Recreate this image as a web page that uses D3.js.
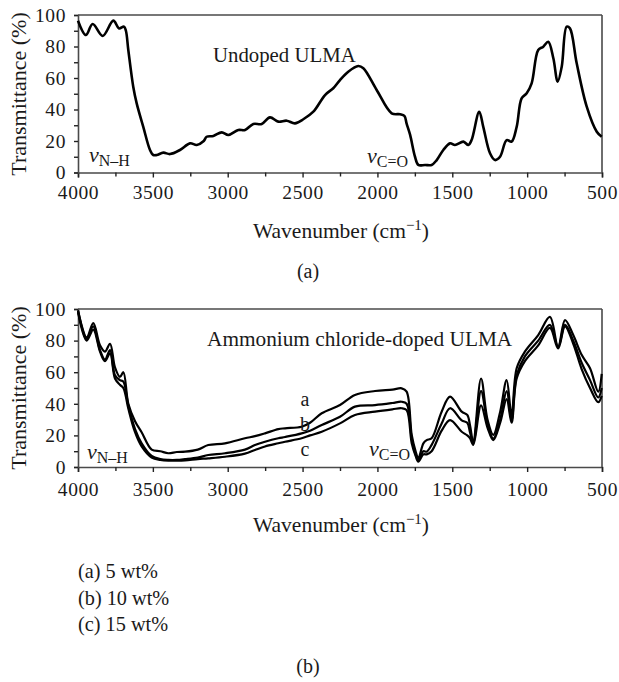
<!DOCTYPE html>
<html>
<head>
<meta charset="utf-8">
<script src="https://cdn.jsdelivr.net/npm/d3@7"></script>
<style>
  html, body { margin: 0; padding: 0; background: #fff; }
  svg { display: block; }
  text { font-family: "Liberation Serif", "Times New Roman", serif; fill: #1a1a1a; }
</style>
</head>
<body>
<svg id="chart" width="619" height="682"></svg>
<script>
// ---------------- DATA ----------------
const xTicks = [4000, 3500, 3000, 2500, 2000, 1500, 1000, 500];
const xMinorTicks = [3750, 3250, 2750, 2250, 1750, 1250, 750];
const yTicks = [0, 20, 40, 60, 80, 100];
const yMinorTicks = [10, 30, 50, 70, 90];

// (a) Undoped ULMA
const topWn = [4000, 3947, 3902, 3835, 3764, 3726, 3693, 3680, 3664, 3631, 3608, 3564, 3519, 3497, 3474, 3430, 3385, 3319, 3252, 3207, 3160, 3141, 3096, 3040, 2996, 2929, 2884, 2829, 2773, 2718, 2662, 2606, 2551, 2495, 2428, 2350, 2295, 2250, 2195, 2128, 2094, 2005, 1905, 1849, 1820, 1805, 1782, 1749, 1727, 1682, 1638, 1604, 1560, 1515, 1482, 1426, 1393, 1371, 1320, 1293, 1248, 1215, 1181, 1137, 1104, 1070, 1037, 1003, 970, 926, 892, 859, 825, 796, 769, 736, 714, 669, 602, 535, 502];
const topT = [96.4, 87.3, 94.3, 86.7, 96.4, 91.5, 92.6, 90, 77.8, 54.5, 43.9, 29, 14.3, 11.1, 11.1, 12.6, 11.7, 14.3, 18.5, 17.5, 20, 22.7, 23.2, 25.5, 23.8, 27, 27, 30.8, 30.8, 35, 32.3, 32.9, 31.2, 33.8, 38.6, 49.2, 53.5, 58.7, 64, 67.6, 66.2, 52.4, 37.6, 37, 36, 31, 24, 10, 4.8, 4.8, 4.8, 7.9, 14.3, 18.5, 17.5, 19.6, 17.5, 20.6, 38.6, 29, 12.2, 7.9, 10, 20.6, 19.6, 29, 47.1, 50.3, 56.6, 77.8, 79.9, 83, 72.5, 57.7, 67.2, 92.6, 91.5, 69.3, 41.8, 25.9, 22.7];

// (b) Ammonium chloride-doped ULMA
const botWn = [4000, 3942, 3898, 3853, 3820, 3786, 3753, 3720, 3697, 3664, 3619, 3575, 3508, 3450, 3397, 3340, 3285, 3200, 3130, 3018, 2885, 2818, 2751, 2662, 2617, 2506, 2450, 2372, 2250, 2150, 2016, 1900, 1838, 1805, 1771, 1745, 1727, 1693, 1671, 1638, 1571, 1515, 1437, 1400, 1382, 1360, 1308, 1265, 1226, 1180, 1137, 1104, 1070, 1015, 926, 848, 793, 747, 692, 636, 580, 525, 502];
const botA = [99, 82, 91, 77, 73, 78, 63, 57, 60, 40, 29, 22, 11, 10, 8.7, 9.5, 9.7, 11, 13.9, 15, 18.2, 19.5, 21.3, 24, 24.5, 25.5, 28, 34, 39.2, 45.6, 48.1, 49, 49.8, 47.7, 20.3, 10, 5.5, 15, 17, 18.2, 35, 44.5, 35, 33, 26.6, 16, 56, 30, 20.3, 35, 55, 32.9, 62.5, 73, 83.5, 95, 76, 93, 83.5, 71, 62.5, 47.7, 59];
const botB = [99, 81, 89, 74, 68, 74, 58, 55, 54, 39, 24, 15, 7, 5, 4.5, 4.5, 5, 6, 7.6, 8.7, 11, 13.9, 16, 18.2, 19, 21.3, 23, 26.6, 31.8, 38.2, 39.2, 40.5, 41.3, 40, 18, 8, 4.5, 10, 9.7, 14, 27.5, 37.2, 29.5, 28, 22, 15, 48, 28, 18, 30, 48, 30, 58, 70, 80, 90, 76, 90, 80, 66, 55, 44, 50];
const botC = [98, 80, 87, 73, 67, 72, 56, 52, 50, 37, 22, 13, 6, 4.5, 4, 4, 4.2, 5, 5.5, 6.5, 8.5, 10.8, 13, 15, 16, 18.2, 20, 22.3, 27.6, 32.9, 35, 36.5, 37.2, 36, 15, 7, 3.4, 8, 8, 10, 23, 29.7, 22.3, 20, 18.2, 14, 39, 25, 17, 28, 43, 28, 56, 67, 77, 88, 75, 89, 78, 62, 50, 41, 45];

const legendItems = ["(a) 5 wt%", "(b) 10 wt%", "(c) 15 wt%"];

// ---------------- DRAW ----------------
const svg = d3.select("#chart");
const X0 = 78, X1 = 602;
const x = d3.scaleLinear().domain([4000, 500]).range([X0, X1]);
const axisColor = "#4a4a4a";

function panel(yTop, yBot, seriesList, lw, labelPad) {
  const y = d3.scaleLinear().domain([0, 100]).range([yBot, yTop]);
  const g = svg.append("g");

  // frame (top + right)
  g.append("line").attr("x1", X0).attr("x2", X1).attr("y1", yTop).attr("y2", yTop)
    .attr("stroke", axisColor).attr("stroke-width", 1.6);
  g.append("line").attr("x1", X1).attr("x2", X1).attr("y1", yTop).attr("y2", yBot)
    .attr("stroke", axisColor).attr("stroke-width", 1.6);

  // x axis
  const xa = g.append("g").attr("transform", `translate(0,${yBot})`)
    .call(d3.axisBottom(x).tickValues(xTicks).tickSize(5).tickPadding(labelPad).tickFormat(d3.format("d")));
  const xm = g.append("g").attr("transform", `translate(0,${yBot})`)
    .call(d3.axisBottom(x).tickValues(xMinorTicks).tickSize(4).tickFormat(""));
  xm.select(".domain").remove();

  // y axis
  const ya = g.append("g").attr("transform", `translate(${X0},0)`)
    .call(d3.axisLeft(y).tickValues(yTicks).tickSize(4).tickPadding(8));
  const ym = g.append("g").attr("transform", `translate(${X0},0)`)
    .call(d3.axisLeft(y).tickValues(yMinorTicks).tickSize(4).tickFormat(""));
  ym.select(".domain").remove();

  [xa, xm, ya, ym].forEach(a => {
    a.selectAll(".domain").attr("stroke", axisColor).attr("stroke-width", 1.6);
    a.selectAll(".tick line").attr("stroke", "#222").attr("stroke-width", 1.4);
    a.selectAll("text").style("font-family", '"Liberation Serif", serif')
      .style("font-size", "19.5px").style("letter-spacing", "0.6px").attr("fill", "#1a1a1a");
  });

  const line = d3.line()
    .x(d => x(d[0])).y(d => y(d[1]))
    .curve(d3.curveCatmullRom.alpha(0.5));
  seriesList.forEach(s => {
    g.append("path").datum(s.wn.map((w, i) => [w, s.v[i]]))
      .attr("d", line).attr("fill", "none").attr("stroke", "#000")
      .attr("stroke-width", lw).attr("stroke-linejoin", "round");
  });
  return { g, y };
}

function nuLabel(g, xPos, yBase, sub) {
  const t = g.append("text").attr("x", xPos).attr("y", yBase).style("font-size", "22px");
  t.append("tspan").text("ν").style("font-style", "italic");
  t.append("tspan").text(sub).attr("dy", 4).style("font-size", "16px");
}

function yTitle(cy) {
  svg.append("text")
    .attr("transform", `translate(26,${cy}) rotate(-90)`)
    .attr("text-anchor", "middle").style("font-size", "22px")
    .text("Transmittance (%)");
}

function xTitle(baseY) {
  const t = svg.append("text").attr("x", 341).attr("y", baseY)
    .attr("text-anchor", "middle").style("font-size", "21.5px");
  t.append("tspan").text("Wavenumber (cm");
  t.append("tspan").text("−1").attr("dy", -8).style("font-size", "15px");
  t.append("tspan").text(")").attr("dy", 8);
}

// Panel (a)
const pa = panel(15, 172.5, [{ wn: topWn, v: topT }], 2.6, 8);
yTitle(94);
xTitle(238);
pa.g.append("text").attr("x", 213).attr("y", 62).style("font-size", "20.8px").text("Undoped ULMA");
nuLabel(pa.g, 89, 162, "N–H");
nuLabel(pa.g, 367, 163, "C=O");
svg.append("text").attr("x", 308).attr("y", 278).attr("text-anchor", "middle")
  .style("font-size", "20px").text("(a)");

// Panel (b)
const pb = panel(309, 467, [
  { wn: botWn, v: botA }, { wn: botWn, v: botB }, { wn: botWn, v: botC }
], 2.2, 10);
yTitle(388);
xTitle(532);
pb.g.append("text").attr("x", 207).attr("y", 346).style("font-size", "21.3px").text("Ammonium chloride-doped ULMA");
nuLabel(pb.g, 87, 459, "N–H");
nuLabel(pb.g, 369, 456, "C=O");
[["a", 406], ["b", 431], ["c", 456]].forEach(([s, yy]) => {
  pb.g.append("text").attr("x", 305).attr("y", yy).attr("text-anchor", "middle")
    .style("font-size", "20px").text(s);
});

// Legend
svg.append("g").selectAll("text").data(legendItems).join("text")
  .attr("x", 78).attr("y", (d, i) => 578 + i * 26.5)
  .style("font-size", "20.3px").text(d => d);

svg.append("text").attr("x", 308).attr("y", 673).attr("text-anchor", "middle")
  .style("font-size", "20px").text("(b)");
</script>
</body>
</html>
